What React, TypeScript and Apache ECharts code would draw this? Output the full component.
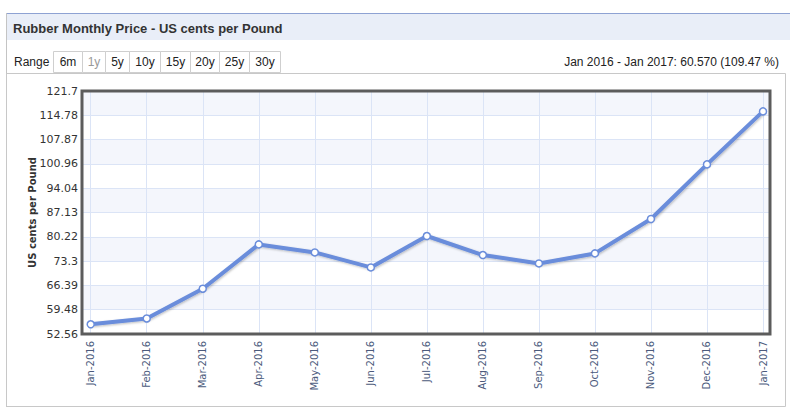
import React, { useEffect, useRef } from "react";
import * as echarts from "echarts";

const months = [
  "Jan-2016", "Feb-2016", "Mar-2016", "Apr-2016", "May-2016", "Jun-2016",
  "Jul-2016", "Aug-2016", "Sep-2016", "Oct-2016", "Nov-2016", "Dec-2016", "Jan-2017",
];
const prices = [55.33, 56.98, 65.44, 78.05, 75.77, 71.5, 80.44, 75.03, 72.64, 75.49, 85.28, 100.82, 115.9];
const yTickLabels = ["52.56", "59.48", "66.39", "73.3", "80.22", "87.13", "94.04", "100.96", "107.87", "114.78", "121.7"];
const yMin = 52.56;
const yMax = 121.7;
const rangeButtons = ["6m", "1y", "5y", "10y", "15y", "20y", "25y", "30y"];
const rangeWidths = [29, 23, 24, 31, 30, 29, 30, 31];
const titleText = "Rubber Monthly Price - US cents per Pound";
const changeText = "Jan 2016 - Jan 2017: 60.570 (109.47 %)";

export default function App() {
  const ref = useRef<HTMLDivElement>(null);
  useEffect(() => {
    if (!ref.current) return;
    const chart = echarts.init(ref.current, null, { renderer: "svg" });
    const font = "'Liberation Sans', Arial, sans-serif";
    const axisFont = "'DejaVu Sans', Verdana, sans-serif";
    const lineColor = "#6a8ddb";
    const gridLineColor = "#dbe4f6";

    const buttons: any[] = [];
    let bx = 53;
    rangeButtons.forEach((b, i) => {
      const w = rangeWidths[i];
      buttons.push({
        type: "rect",
        shape: { x: bx + 0.5, y: 51.5, width: w, height: 21 },
        style: { fill: "#fff", stroke: "#cfcfcf", lineWidth: 1 },
      });
      buttons.push({
        type: "text",
        style: {
          x: bx + w / 2 + 0.5,
          y: 62,
          text: b,
          align: "center",
          verticalAlign: "middle",
          font: `12px ${font}`,
          fill: i === 1 ? "#999" : "#222",
        },
      });
      bx += w;
    });

    chart.setOption({
      animation: false,
      graphic: [
        { type: "rect", z: -10, shape: { x: 6.5, y: 13, width: 790, height: 27 }, style: { fill: "#e9eef8" } },
        { type: "line", z: -9, shape: { x1: 6, y1: 13.5, x2: 790, y2: 13.5 }, style: { stroke: "#8ea2d3", lineWidth: 1 } },
        { type: "line", z: -9, shape: { x1: 6.5, y1: 13, x2: 6.5, y2: 407 }, style: { stroke: "#c4c4c4", lineWidth: 1 } },
        { type: "rect", z: -9, shape: { x: 6.5, y: 73.5, width: 779, height: 333 }, style: { fill: "none", stroke: "#c8c8c8", lineWidth: 1 } },
        {
          type: "text",
          style: { x: 13, y: 28, text: titleText, verticalAlign: "middle", font: `bold 13px ${font}`, fill: "#333" },
        },
        {
          type: "text",
          style: { x: 14, y: 62, text: "Range", verticalAlign: "middle", font: `12px ${font}`, fill: "#222" },
        },
        ...buttons,
        {
          type: "text",
          style: { x: 779, y: 62, text: changeText, align: "right", verticalAlign: "middle", font: `12px ${font}`, fill: "#222" },
        },
      ],
      grid: [
        {
          left: 82,
          top: 91,
          width: 688,
          height: 243,
          show: true,
          borderWidth: 3,
          borderColor: "#5c5c5c",
          backgroundColor: "transparent",
          z: 5,
        },
        {
          left: 90.7,
          top: 91,
          width: 672.3,
          height: 243,
          show: false,
        },
      ],
      xAxis: [
        {
          gridIndex: 0,
          type: "value",
          min: 0,
          max: 1,
          show: false,
          splitLine: { show: false },
        },
        {
          gridIndex: 1,
          type: "category",
          data: months,
          boundaryGap: false,
          axisLine: { show: false },
          axisTick: { show: false },
          splitLine: { show: true, interval: 0, lineStyle: { color: gridLineColor, width: 1 } },
          axisLabel: {
            interval: 0,
            rotate: 90,
            margin: 7,
            fontSize: 10,
            fontFamily: axisFont,
            color: "#4b5a7c",
          },
        },
      ],
      yAxis: [
        {
          gridIndex: 0,
          type: "value",
          min: 0,
          max: 10,
          interval: 1,
          name: "US cents per Pound",
          nameLocation: "middle",
          nameRotate: 90,
          nameGap: 45,
          nameMoveOverlap: false,
          nameTextStyle: { fontSize: 10, fontWeight: "bold", fontFamily: axisFont, color: "#333" },
          axisLine: { show: false },
          axisTick: { show: false },
          axisLabel: {
            margin: 4,
            fontSize: 11,
            fontFamily: axisFont,
            color: "#333",
            formatter: (v: number) => yTickLabels[Math.round(v)] ?? "",
          },
          splitLine: { show: true, lineStyle: { color: gridLineColor, width: 1 } },
          splitArea: { show: true, areaStyle: { color: ["#ffffff", "#f4f6fc"] } },
        },
        {
          gridIndex: 1,
          type: "value",
          min: yMin,
          max: yMax,
          show: false,
          splitLine: { show: false },
        },
      ],
      series: [
        {
          type: "line",
          xAxisIndex: 1,
          yAxisIndex: 1,
          data: prices,
          symbol: "circle",
          symbolSize: 7,
          lineStyle: {
            color: lineColor,
            width: 4,
            shadowColor: "rgba(0,0,0,0.25)",
            shadowBlur: 2,
            shadowOffsetX: 1,
            shadowOffsetY: 1,
          },
          itemStyle: { color: "#fff", borderColor: lineColor, borderWidth: 1.5 },
          z: 3,
        },
      ],
    });
    return () => chart.dispose();
  }, []);
  return (
    <div
      ref={ref}
      style={{ position: "fixed", left: 0, top: 0, width: 790, height: 415, background: "#fff" }}
    />
  );
}
